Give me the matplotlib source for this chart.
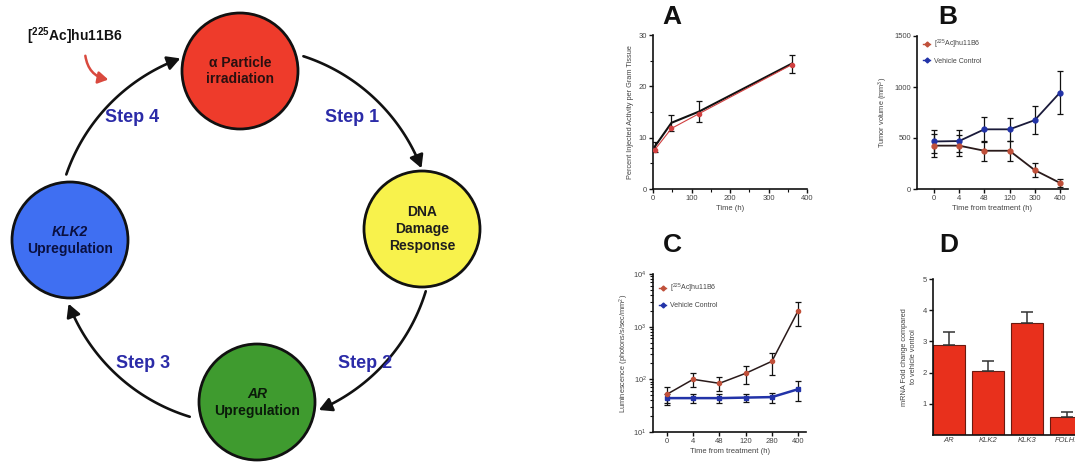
import numpy as np
import matplotlib
matplotlib.use('Agg')
import matplotlib.pyplot as plt
from matplotlib.patches import Circle, FancyArrowPatch
from matplotlib.path import Path
from matplotlib.lines import Line2D
from matplotlib.ticker import MultipleLocator, LogLocator, NullFormatter, FixedLocator

plt.rcParams['font.family'] = ['Liberation Sans', 'DejaVu Sans']
plt.rcParams['mathtext.fontset'] = 'custom'
plt.rcParams['mathtext.rm'] = 'Liberation Sans'
plt.rcParams['mathtext.bf'] = 'Liberation Sans:bold'
plt.rcParams['mathtext.it'] = 'Liberation Sans:italic'

# ---------------- data ----------------
a_time = [4, 48, 120, 360]
a_black = [8.2, 12.9, 15.1, 24.4]
a_black_err = [1.0, 1.6, 2.0, 1.8]
a_red = [7.6, 11.8, 14.7, 24.2]

b_cats = ['0', '4', '48', '120', '300', '400']
b_vehicle = [466, 470, 585, 585, 675, 945]
b_vehicle_err = [115, 110, 120, 115, 140, 210]
b_treated = [425, 425, 375, 375, 185, 60]
b_treated_err = [115, 105, 100, 100, 70, 40]

c_cats = ['0', '4', '48', '120', '280', '400']
c_treated = [52, 100, 84, 130, 220, 2000]
c_treated_err = [20, 30, 25, 50, 100, 950]
c_vehicle = [44, 44, 44, 45, 46, 65]
c_vehicle_err = [9, 9, 9, 8, 10, 27]

d_genes = ['AR', 'KLK2', 'KLK3', 'FOLH1']
d_fold = [2.88, 2.06, 3.59, 0.59]
d_err = [0.43, 0.31, 0.35, 0.15]

treated_label = r'[$^{225}$Ac]hu11B6'
vehicle_label = 'Vehicle Control'

W, H = 1075, 466
fig = plt.figure(figsize=(W / 100, H / 100), dpi=100)


def fig_ax(l, r, top, bot):
    return fig.add_axes([l / W, 1 - bot / H, (r - l) / W, (bot - top) / H])


def style(ax):
    for s in ['top', 'right']:
        ax.spines[s].set_visible(False)
    for s in ['left', 'bottom']:
        ax.spines[s].set_linewidth(1.2)
        ax.spines[s].set_color('#111111')
    ax.tick_params(which='major', length=3, width=1, labelsize=5.5,
                   colors='#111111', labelcolor='#444444', pad=1.5)
    ax.tick_params(which='minor', length=2, width=0.8, colors='#111111')


tcol = '#c0503a'
vcol = '#2233a8'

# ---------------- A ----------------
axA = fig_ax(653, 807, 35, 189)
style(axA)
axA.plot(a_time, a_red, color='#d04040', lw=0.8, marker='o', ms=3,
         mfc='#d04040', mec='#d04040', zorder=4)
axA.errorbar(a_time, a_black, yerr=a_black_err, color='#111111', lw=1.5,
             capsize=2.5, elinewidth=0.9, capthick=0.9, zorder=3)
axA.set_xlim(0, 400)
axA.set_ylim(0, 30)
axA.xaxis.set_major_locator(MultipleLocator(100))
axA.xaxis.set_minor_locator(MultipleLocator(50))
axA.yaxis.set_major_locator(MultipleLocator(10))
axA.yaxis.set_minor_locator(MultipleLocator(5))
axA.set_xlabel('Time (h)', fontsize=5.5, color='#444444', labelpad=2)
axA.set_ylabel('Percent Injected Activity per Gram Tissue', fontsize=5.3,
               color='#444444', labelpad=3)

# ---------------- B ----------------
axB = fig_ax(917, 1068, 36, 189)
style(axB)
xb = np.arange(len(b_cats))
axB.errorbar(xb, b_vehicle, yerr=b_vehicle_err, color='#1a1a3a', lw=1.3,
             marker='o', ms=3.5, mfc=vcol, mec=vcol, ecolor='#111111',
             capsize=2.5, elinewidth=0.9, capthick=0.9)
axB.errorbar(xb, b_treated, yerr=b_treated_err, color='#2a1a1a', lw=1.3,
             marker='o', ms=3.5, mfc=tcol, mec=tcol, ecolor='#111111',
             capsize=2.5, elinewidth=0.9, capthick=0.9)
axB.set_xlim(-0.67, 5.32)
axB.set_ylim(0, 1500)
axB.set_xticks(xb)
axB.set_xticklabels(b_cats)
axB.yaxis.set_major_locator(MultipleLocator(500))
axB.set_xlabel('Time from treatment (h)', fontsize=5.5, color='#444444', labelpad=2)
axB.set_ylabel('Tumor volume (mm$^{3}$)', fontsize=5.3, color='#444444', labelpad=3)
hB = [Line2D([], [], color=tcol, marker='D', ms=2.5, lw=1),
      Line2D([], [], color=vcol, marker='D', ms=2.5, lw=1)]
axB.legend(hB, [treated_label, vehicle_label], loc='upper left',
           bbox_to_anchor=(0.0, 1.03), frameon=False, fontsize=5,
           handlelength=1.0, labelspacing=1.0, handletextpad=0.5,
           labelcolor='#444444')

# ---------------- C ----------------
axC = fig_ax(653, 806, 274, 432)
style(axC)
xc = np.arange(len(c_cats))
axC.set_yscale('log')
axC.errorbar(xc, c_vehicle, yerr=c_vehicle_err, color=vcol, lw=1.8,
             marker='s', ms=3, mfc=vcol, mec=vcol, ecolor='#111111',
             capsize=2.5, elinewidth=0.9, capthick=0.9)
axC.errorbar(xc, c_treated, yerr=c_treated_err, color='#2a1a1a', lw=1.1,
             marker='o', ms=3, mfc=tcol, mec=tcol, ecolor='#111111',
             capsize=2.5, elinewidth=0.9, capthick=0.9)
axC.set_xlim(-0.53, 5.3)
axC.set_ylim(10, 1e4)
axC.set_xticks(xc)
axC.set_xticklabels(c_cats)
axC.yaxis.set_major_locator(LogLocator(base=10, numticks=10))
axC.yaxis.set_minor_locator(LogLocator(base=10, subs=np.arange(2, 10), numticks=10))
axC.yaxis.set_minor_formatter(NullFormatter())
axC.set_xlabel('Time from treatment (h)', fontsize=5.5, color='#444444', labelpad=2)
axC.set_ylabel('Luminescence (photons/s/sec/mm$^{2}$)', fontsize=5.3,
               color='#444444', labelpad=2)
hC = [Line2D([], [], color=tcol, marker='D', ms=2.5, lw=1),
      Line2D([], [], color=vcol, marker='D', ms=2.5, lw=1)]
axC.legend(hC, [treated_label, vehicle_label], loc='upper left',
           bbox_to_anchor=(0.0, 0.99), frameon=False, fontsize=5,
           handlelength=1.0, labelspacing=1.0, handletextpad=0.5,
           labelcolor='#444444')

# ---------------- D ----------------
axD = fig_ax(933, 1092, 279, 435)
style(axD)
xd = np.arange(len(d_genes))
axD.bar(xd, d_fold, width=0.82, color='#e8301c', edgecolor='#6a1a10', lw=0.8)
axD.errorbar(xd, d_fold, yerr=[[0] * len(d_err), d_err], fmt='none',
             ecolor='#333333', capsize=4, elinewidth=1.1, capthick=1.1)
axD.set_xlim(-0.41, 3.65)
axD.set_ylim(0, 5)
axD.set_xticks(xd)
axD.set_xticklabels(d_genes, fontstyle='italic')
axD.tick_params(axis='x', length=0)
axD.yaxis.set_major_locator(FixedLocator([1, 2, 3, 4, 5]))
axD.set_ylabel('mRNA Fold change compared\nto vehicle vontrol', fontsize=5.3,
               color='#444444', labelpad=4, linespacing=1.3)

# panel letters
for letter, (px, py) in zip(['A', 'B', 'C', 'D'],
                            [(672, 17), (948, 17), (672, 245), (949, 245)]):
    fig.text(px / W, 1 - py / H, letter, fontsize=19, fontweight='bold',
             ha='center', va='center', color='#111111')

# ---------------- cycle diagram ----------------
dax = fig.add_axes([0, 0, 590 / W, 1])
dax.set_xlim(0, 590)
dax.set_ylim(466, 0)
dax.axis('off')

nodes = [
    ((240, 71), '#ee3b2b', '#2a1010', [('α Particle', 'normal', -8), ('irradiation', 'normal', 8)]),
    ((422, 229), '#f8f24c', '#1e1e1e', [('DNA', 'normal', -17), ('Damage', 'normal', 0), ('Response', 'normal', 17)]),
    ((257, 402), '#3f9b2f', '#0a1a0a', [('AR', 'italic', -8), ('Upregulation', 'normal', 9)]),
    ((70, 240), '#3f6ff2', '#0a1040', [('KLK2', 'italic', -8), ('Upregulation', 'normal', 9)]),
]
for (cx, cy), fc, tc, lines in nodes:
    dax.add_patch(Circle((cx, cy), 58, fc=fc, ec='#111111', lw=2, zorder=2))
    for txt, st, dy in lines:
        dax.text(cx, cy + dy, txt, ha='center', va='center', fontsize=10,
                 fontweight='bold', fontstyle=st, color=tc, zorder=3)

ccx, ccy, rr = 245, 236, 189
arcs = [(-72, -21), (17, 67), (107, 159), (199, 250)]
for a0, a1 in arcs:
    th = np.radians(np.linspace(a0, a1, 60))
    pts = np.column_stack([ccx + rr * np.cos(th), ccy + rr * np.sin(th)])
    arr = FancyArrowPatch(path=Path(pts), arrowstyle='-|>,head_length=0.55,head_width=0.3',
                          mutation_scale=14, color='#111111', lw=1.9, zorder=1)
    dax.add_patch(arr)

step_col = '#2b2ba8'
for txt, (sx, sy) in zip(['Step 1', 'Step 2', 'Step 3', 'Step 4'],
                         [(352, 118), (365, 363), (143, 363), (132, 118)]):
    dax.text(sx, sy, txt, ha='center', va='center', fontsize=13,
             fontweight='bold', color=step_col)

dax.text(27, 36, r'$\mathbf{[^{225}Ac]hu11B6}$', ha='left', va='center',
         fontsize=10, color='#111111')
dax.add_patch(FancyArrowPatch((85, 53), (111, 80), connectionstyle='arc3,rad=0.4',
                              arrowstyle='-|>,head_length=0.5,head_width=0.3',
                              mutation_scale=12, color='#d9493e', lw=1.8))

fig.savefig('out.png', dpi=100)
